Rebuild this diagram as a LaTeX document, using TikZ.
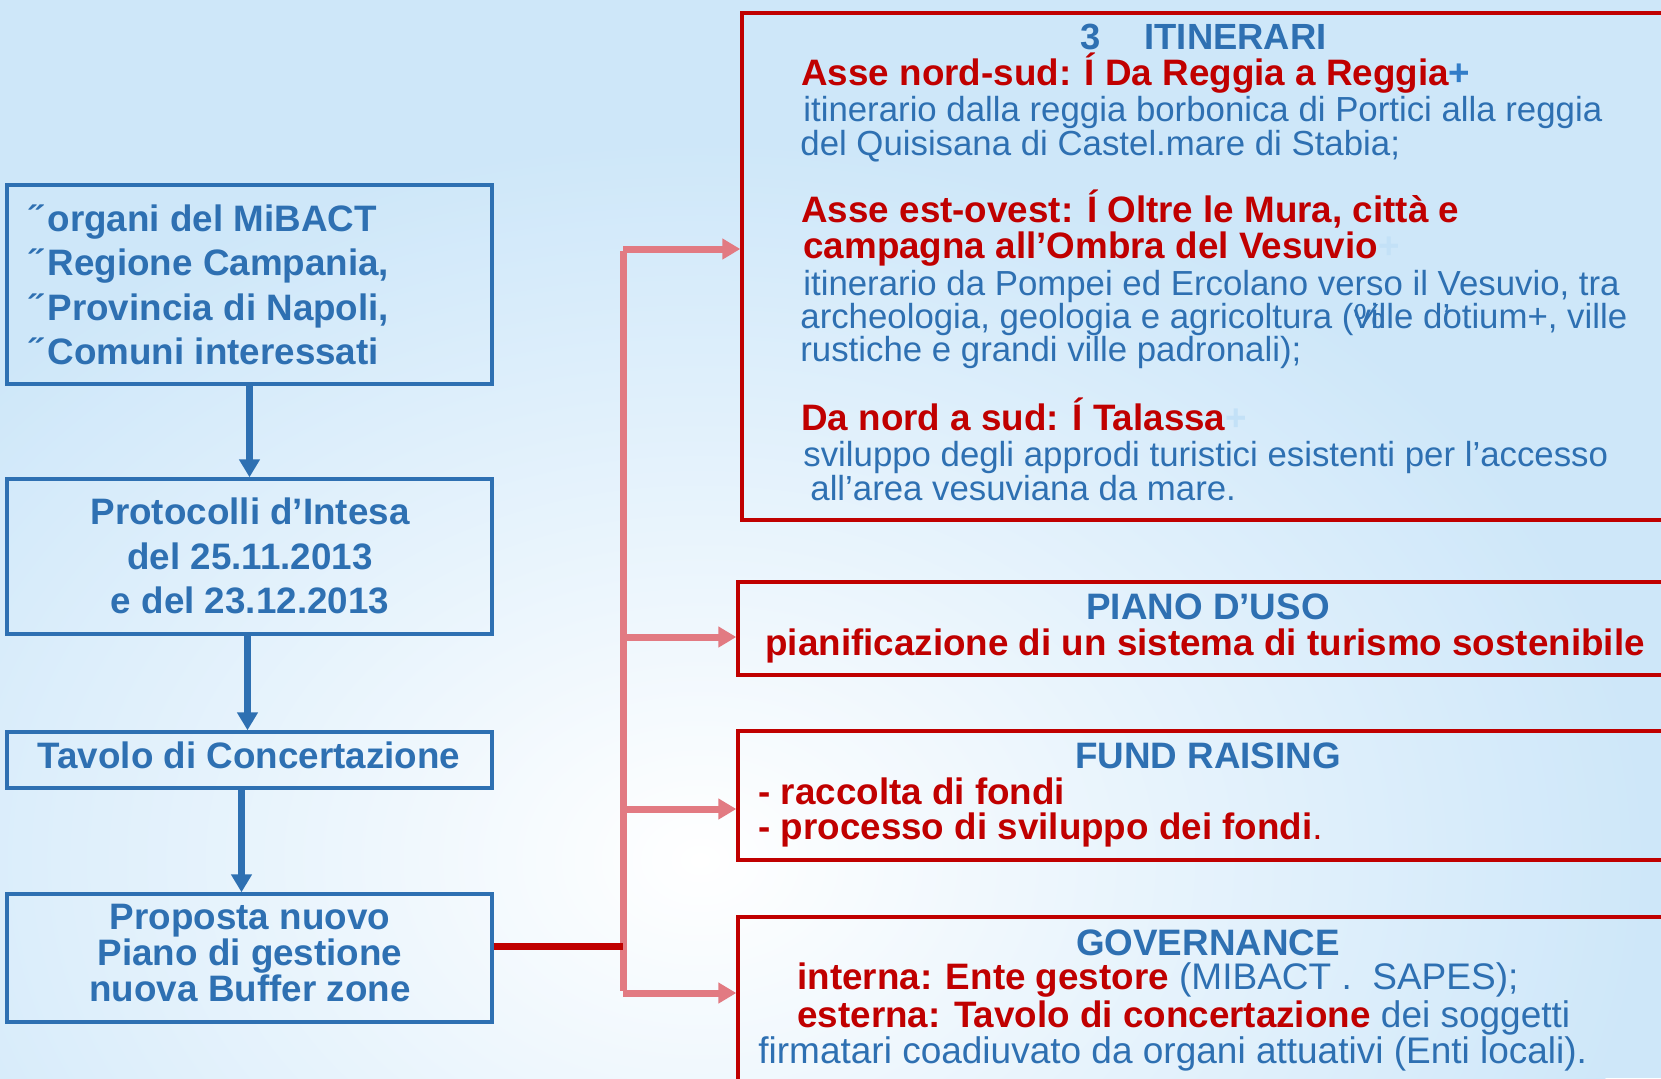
\documentclass[tikz,border=0pt]{standalone}
\usepackage{fontspec}
\setmainfont{Liberation Sans}
\usetikzlibrary{arrows.meta,fit}
\definecolor{tblue}{RGB}{46,112,178}
\definecolor{tred}{RGB}{192,0,0}
\definecolor{tpink}{RGB}{226,122,130}
\definecolor{bgblue}{RGB}{206,231,249}
\definecolor{plusblue}{RGB}{50,125,200}
\definecolor{faint}{RGB}{195,225,247}
\begin{document}
\begin{tikzpicture}[x=0.5pt,y=-0.5pt,
  bbox/.style={draw=tblue, line width=1.7pt, inner sep=0pt},
  rbox/.style={draw=tred, line width=1.7pt, inner sep=0pt},
  txt/.style={inner sep=0pt, anchor=base west},
  ctxt/.style={inner sep=0pt, anchor=base},
  bbf/.style={font=\fontsize{18.4}{22}\selectfont\bfseries},
  rgf/.style={font=\fontsize{17.4}{21}\selectfont},
  grf/.style={font=\fontsize{18.5}{22}\selectfont},
  barrow/.style={draw=tblue, line width=3.5pt, -{Triangle[width=10pt,length=9pt]}},
  parrow/.style={draw=tpink, line width=3.5pt, -{Triangle[width=10pt,length=9pt]}},
]
\useasboundingbox (0,0) rectangle (1661,1078);
\begin{scope}
  \clip (0,0) rectangle (1661,1078);
  \fill[bgblue] (0,0) rectangle (1661,1078);
  \shade[inner color=white, outer color=bgblue] (700,860) ellipse (950 and 720);
\end{scope}

% left boxes
\node[bbox, fit={(7,185) (492,384)}] (b1) {};
\node[bbox, fit={(7,479) (492,634)}] (b2) {};
\node[bbox, fit={(7,732) (492,788)}] (b3) {};
\node[bbox, fit={(7,894) (492,1022)}] (b4) {};

\node[txt,bbf,text=tblue] (t1a) at (30,231) {˝\kern2.5pt organi del MiBACT};
\node[txt,bbf,text=tblue] (t1b) at (30,275) {˝\kern2.5pt Regione Campania,};
\node[txt,bbf,text=tblue] (t1c) at (30,320) {˝\kern2.5pt Provincia di Napoli,};
\node[txt,bbf,text=tblue] (t1d) at (30,364) {˝\kern2.5pt Comuni interessati};

\node[ctxt,bbf,text=tblue] (t2a) at (250,524) {Protocolli d’Intesa};
\node[ctxt,bbf,text=tblue] (t2b) at (250,569) {del 25.11.2013};
\node[ctxt,bbf,text=tblue] (t2c) at (250,613) {e del 23.12.2013};

\node[ctxt,bbf,text=tblue] (t3) at (249,768) {Tavolo di Concertazione};

\node[ctxt,bbf,text=tblue] (t4a) at (250,929) {Proposta nuovo};
\node[ctxt,bbf,text=tblue] (t4b) at (250,965) {Piano di gestione};
\node[ctxt,bbf,text=tblue] (t4c) at (250,1001) {nuova Buffer zone};

% left arrows
\draw[barrow] (b1.south) -- (b2.north);
\draw[barrow] ([xshift=-1pt]b2.south) -- ([xshift=-1pt]b3.north);
\draw[barrow] ([xshift=-4pt]b3.south) -- ([xshift=-4pt]b4.north);

% right boxes
\node[rbox, fit={(742,13) (1690,520)}] (itin) {};
\node[rbox, fit={(738,582) (1690,675)}] (piano) {};
\node[rbox, fit={(738,731) (1690,860)}] (fund) {};
\node[rbox, fit={(738,917) (1690,1100)}] (gov) {};

% connectors
\coordinate (j0) at (623,946);
\coordinate (jt) at (623,249);
\coordinate (jp) at (623,637);
\coordinate (jf) at (623,809);
\coordinate (jb) at (623,993);
\draw[tpink, line width=3.5pt] ([yshift=-1pt]jt) -- ([yshift=1pt]jb);
\draw[parrow] (jt) -- (jt -| itin.west);
\draw[parrow] (jp) -- (jp -| piano.west);
\draw[parrow] (jf) -- (jf -| fund.west);
\draw[parrow] (jb) -- (jb -| gov.west);
\draw[tred, line width=3.5pt] (b4.east |- j0) -- (j0);

% ITINERARI text
\node[txt,text=tblue,font=\fontsize{18.2}{22}\selectfont\bfseries] (ih) at (1080,49) {3\hspace{22pt}ITINERARI};
\node[txt,bbf,text=tred] (i1) at (801,85) {Asse nord-sud: Í Da Reggia a Reggia{\color{plusblue}+}};
\node[txt,rgf,text=tblue] (i2) at (803,121) {itinerario dalla reggia borbonica di Portici alla reggia};
\node[txt,rgf,text=tblue] (i3) at (800,155) {del Quisisana di Castel.mare di Stabia;};
\node[txt,bbf,text=tred] (i4) at (801,222) {Asse est-ovest: Í Oltre le Mura, città e};
\node[txt,bbf,text=tred] (i5) at (803,258) {campagna all’Ombra del Vesuvio{\color{faint}+}};
\node[txt,rgf,text=tblue] (i6) at (803,295) {itinerario da Pompei ed Ercolano verso il Vesuvio, tra};
\node[txt,rgf,text=tblue] (i7) at (800,328) {archeologia, geologia e agricoltura (\rlap{\%}ville d\rlap{’}otium+, ville};
\node[txt,rgf,text=tblue] (i8) at (800,361) {rustiche e grandi ville padronali);};
\node[txt,bbf,text=tred] (i9) at (801,430) {Da nord a sud: Í Talassa{\color{faint}+}};
\node[txt,rgf,text=tblue] (i10) at (803,466) {sviluppo degli approdi turistici esistenti per l’accesso};
\node[txt,rgf,text=tblue] (i11) at (810,500) {all’area vesuviana da mare.};

% PIANO
\node[ctxt,bbf,text=tblue] (ph) at (1208,619) {PIANO D’USO};
\node[txt,bbf,text=tred] (p1) at (765,655) {pianificazione di un sistema di turismo sostenibile};

% FUND
\node[ctxt,bbf,text=tblue] (fh) at (1208,768) {FUND RAISING};
\node[txt,bbf,text=tred] (f1) at (758,804) {- raccolta di fondi};
\node[txt,bbf,text=tred] (f2) at (758,839) {- processo di sviluppo dei fondi{\mdseries .}};

% GOVERNANCE
\node[ctxt,bbf,text=tblue] (gh) at (1208,955) {GOVERNANCE};
\node[txt,grf,text=tblue] (g1) at (797,989) {{\fontsize{18.4}{22}\selectfont\bfseries\color{tred}interna: Ente gestore} (MIBACT .\ \ SAPES);};
\node[txt,grf,text=tblue] (g2) at (797,1027) {{\fontsize{18.4}{22}\selectfont\bfseries\color{tred}esterna: Tavolo di concertazione} dei soggetti};
\node[txt,grf,text=tblue] (g3) at (758,1063) {firmatari coadiuvato da organi attuativi (Enti locali).};
\end{tikzpicture}
\end{document}
